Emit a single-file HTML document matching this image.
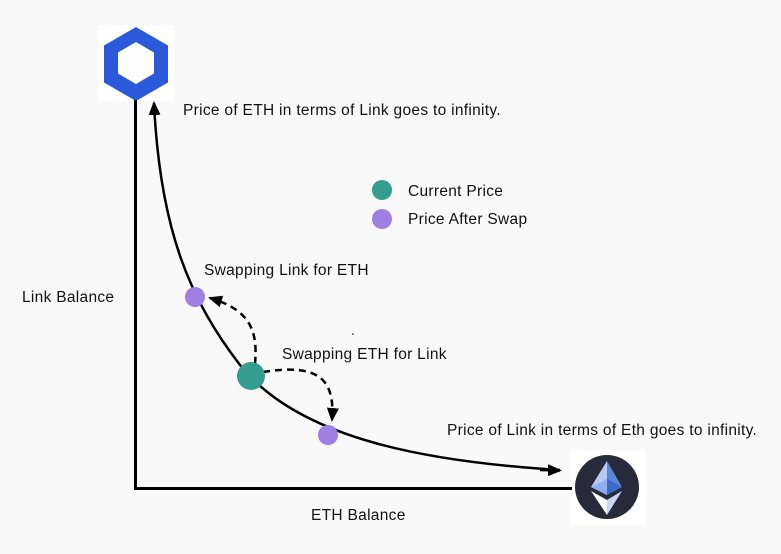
<!DOCTYPE html>
<html><head><meta charset="utf-8"><style>
html,body{margin:0;padding:0;background:#f9f9f9;}
svg{display:block;font-family:"Liberation Sans",sans-serif;}
</style></head><body>
<svg width="781" height="554" viewBox="0 0 781 554" xmlns="http://www.w3.org/2000/svg">
<defs>
<marker id="ah2" markerWidth="14" markerHeight="12" refX="12" refY="6" orient="auto" markerUnits="userSpaceOnUse">
<path d="M0,0 L14,6 L0,12 Z" fill="#000"/></marker>
</defs>
<rect x="0" y="0" width="781" height="554" fill="#f9f9f9"/>
<!-- link logo -->
<rect x="98" y="25" width="76" height="76" fill="#fff"/>
<polygon points="136,27 168,45.5 168,82.5 136,101 104,82.5 104,45.5" fill="#2a5ada"/>
<polygon points="136,42 154,52.5 154,73.5 136,84 118,73.5 118,52.5" fill="#fff"/>
<!-- eth logo -->
<rect x="570" y="450" width="75" height="75" fill="#fff"/>
<circle cx="607" cy="487" r="32" fill="#262a3a"/>
<polygon points="607,461 622,487 607,495" fill="#5b86d6"/>
<polygon points="607,461 591,487 607,495" fill="#b8c9f0"/>
<polygon points="591,487 607,479 607,495" fill="#8fb0ec"/>
<polygon points="622,487 607,479 607,495" fill="#3d6ac7"/>
<polygon points="591,491 607,500 607,515" fill="#fff"/>
<polygon points="622,491 607,500 607,515" fill="#c9d6f3"/>
<!-- axes -->
<line x1="135.5" y1="100" x2="135.5" y2="489" stroke="#000" stroke-width="3"/>
<line x1="134" y1="488.5" x2="572" y2="488.5" stroke="#000" stroke-width="3"/>
<!-- curve -->
<path d="M560,470 C430,462 300,440 240,365 C190,300 160,230 154,103" fill="none" stroke="#000" stroke-width="2.5" marker-end="url(#ah2)"/>
<line x1="540" y1="470" x2="560" y2="470.5" stroke="#000" stroke-width="2.5" marker-end="url(#ah2)"/>
<!-- dashed arrows -->
<path d="M255,364 C258,330 250,310 210,298" fill="none" stroke="#000" stroke-width="2.5" stroke-dasharray="7,5" marker-end="url(#ah2)"/>
<path d="M263,372 C320,363 335,380 332,420" fill="none" stroke="#000" stroke-width="2.5" stroke-dasharray="7,5" marker-end="url(#ah2)"/>
<!-- points -->
<circle cx="195" cy="297" r="10" fill="#9f7fe3"/>
<circle cx="251" cy="376" r="14" fill="#349d90"/>
<circle cx="328" cy="435" r="10" fill="#9f7fe3"/>
<circle cx="382" cy="190" r="10" fill="#349d90"/>
<circle cx="382" cy="219" r="10" fill="#9f7fe3"/>
<circle cx="353" cy="334" r="0.8" fill="#000"/>
<!-- text -->
<g font-size="15.5" fill="#111" letter-spacing="0.3">
<text x="183" y="115">Price of ETH in terms of Link goes to infinity.</text>
<text x="408" y="196">Current Price</text>
<text x="408" y="224">Price After Swap</text>
<text x="204" y="275">Swapping Link for ETH</text>
<text x="22" y="302">Link Balance</text>
<text x="282" y="359">Swapping ETH for Link</text>
<text x="447" y="435">Price of Link in terms of Eth goes to infinity.</text>
<text x="311" y="520">ETH Balance</text>
</g>
</svg>
</body></html>
